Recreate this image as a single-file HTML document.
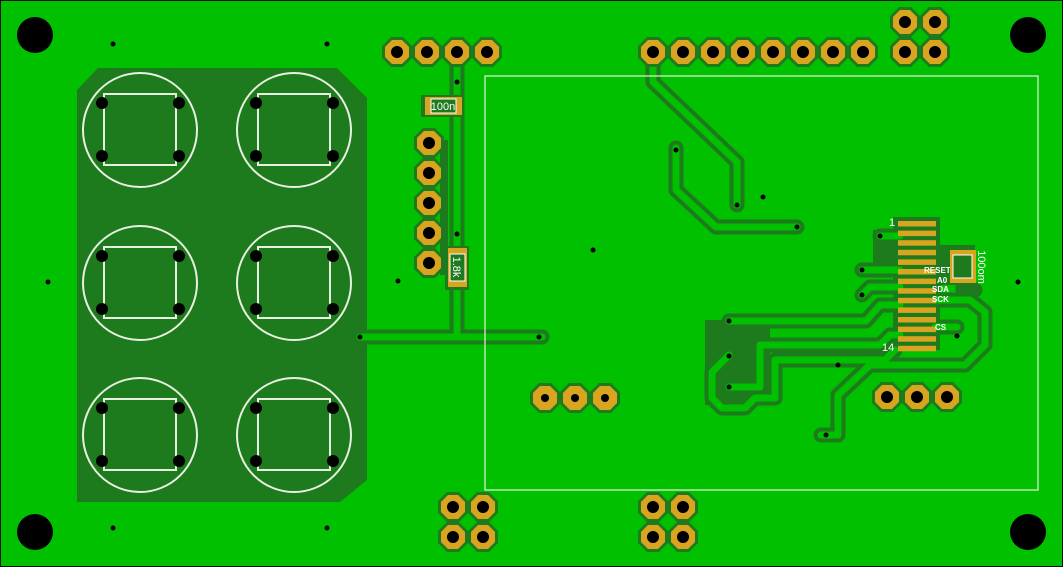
<!DOCTYPE html>
<html><head><meta charset="utf-8"><style>
html,body{margin:0;padding:0;background:#00c000}
svg{display:block}
text{font-family:"Liberation Sans",sans-serif;fill:#fff}
</style></head><body>
<svg width="1063" height="567" viewBox="0 0 1063 567" xmlns="http://www.w3.org/2000/svg">
<defs>
<g id="pad"><polygon points="15,6 6,15 -6,15 -15,6 -15,-6 -6,-15 6,-15 15,-6" fill="#1d7a1d"/><polygon points="12,5 5,12 -5,12 -12,5 -12,-5 -5,-12 5,-12 12,-5" fill="#d9a520"/><circle r="6" fill="#000"/></g>
<g id="spad"><polygon points="15,6 6,15 -6,15 -15,6 -15,-6 -6,-15 6,-15 15,-6" fill="#1d7a1d"/><polygon points="12,5 5,12 -5,12 -12,5 -12,-5 -5,-12 5,-12 12,-5" fill="#d9a520"/><circle r="4" fill="#000"/></g>
<g id="sw"><circle r="57" fill="none" stroke="#e8f0e0" stroke-width="2"/><rect x="-36" y="-36" width="72" height="71" fill="none" stroke="#e8f0e0" stroke-width="2"/><circle cx="-38" cy="-27" r="6" fill="#000"/><circle cx="39" cy="-27" r="6" fill="#000"/><circle cx="-38" cy="26" r="6" fill="#000"/><circle cx="39" cy="26" r="6" fill="#000"/></g>
</defs>
<rect x="0.5" y="0.5" width="1062" height="566" fill="#00c000" stroke="#111" stroke-width="1"/>
<!-- dark pour -->
<polygon points="77,90 98,68 337,68 367,98 367,480 340,502 77,502" fill="#1d7a1d"/>
<polygon points="440,140 448,140 448,275 440,275" fill="#1d7a1d"/>
<polygon points="893,217 940,217 940,245 975,245 975,285 940,285 940,350 893,350" fill="#1d7a1d"/>
<polygon points="705,320 770,320 770,405 705,405" fill="#1d7a1d"/>
<polygon points="873,230 893,230 893,265 873,265" fill="#1d7a1d"/>
<!-- traces -->
<g fill="none" stroke-linecap="round" stroke-linejoin="round">
<g stroke="#1d7a1d" stroke-width="15">
<path d="M457,52 V335 M360,337 H542"/>
<path d="M653,52 V82 L737,162 V205"/>
<path d="M676,148 V190 L716,227 H797"/>
<path d="M880,236 H900 M862,270 H900 M862,295 L870,287 H900 M729,321 H866 L880,305 H900"/>
<path d="M729,387 H760 V345 H880 L890,335 H900"/>
<path d="M729,355 L712,372 V398 L722,408 H745 L755,398 H775 V360 H885 L895,350"/>
<path d="M821,435 H838 V395 L870,365 H965 L985,345 V312 L970,300 H935"/>
<path d="M957,327 H935"/>
<path d="M963,270 V290 H975"/>
</g>
<g stroke="#00c000" stroke-width="7">
<path d="M457,52 V335 M360,337 H542"/>
<path d="M653,52 V82 L737,162 V205"/>
<path d="M676,148 V190 L716,227 H797"/>
<path d="M880,236 H900 M862,270 H900 M862,295 L870,287 H900 M729,321 H866 L880,305 H900"/>
<path d="M729,387 H760 V345 H880 L890,335 H900"/>
<path d="M729,355 L712,372 V398 L722,408 H745 L755,398 H775 V360 H885 L895,350"/>
<path d="M821,435 H838 V395 L870,365 H965 L985,345 V312 L970,300 H935"/>
<path d="M957,327 H935"/>
</g>
</g>
<!-- vias -->
<g fill="#000">
<circle cx="457" cy="82" r="2.5"/><circle cx="457" cy="234" r="2.5"/><circle cx="360" cy="337" r="2.5"/><circle cx="539" cy="337" r="2.5"/>
<circle cx="398" cy="281" r="2.5"/><circle cx="737" cy="205" r="2.5"/><circle cx="676" cy="150" r="2.5"/><circle cx="797" cy="227" r="2.5"/>
<circle cx="763" cy="197" r="2.5"/><circle cx="593" cy="250" r="2.5"/><circle cx="113" cy="44" r="2.5"/><circle cx="327" cy="44" r="2.5"/>
<circle cx="48" cy="282" r="2.5"/><circle cx="1018" cy="282" r="2.5"/><circle cx="113" cy="528" r="2.5"/><circle cx="327" cy="528" r="2.5"/>
<circle cx="880" cy="236" r="2.5"/><circle cx="862" cy="270" r="2.5"/><circle cx="862" cy="295" r="2.5"/><circle cx="729" cy="321" r="2.5"/>
<circle cx="729" cy="356" r="2.5"/><circle cx="729" cy="387" r="2.5"/><circle cx="838" cy="365" r="2.5"/><circle cx="826" cy="435" r="2.5"/>
<circle cx="957" cy="336" r="2.5"/>
</g>
<!-- mounting holes -->
<g fill="#000"><circle cx="35" cy="35" r="18"/><circle cx="1028" cy="35" r="18"/><circle cx="35" cy="532" r="18"/><circle cx="1028" cy="532" r="18"/></g>
<!-- switches -->
<use href="#sw" x="140" y="130"/><use href="#sw" x="294" y="130"/>
<use href="#sw" x="140" y="283"/><use href="#sw" x="294" y="283"/>
<use href="#sw" x="140" y="435"/><use href="#sw" x="294" y="435"/>
<!-- white outline -->
<rect x="485" y="76" width="553" height="414" fill="none" stroke="#e8f0e0" stroke-width="1.2"/>
<!-- pads -->
<use href="#pad" x="397" y="52"/><use href="#pad" x="427" y="52"/><use href="#pad" x="457" y="52"/><use href="#pad" x="487" y="52"/>
<use href="#pad" x="653" y="52"/><use href="#pad" x="683" y="52"/><use href="#pad" x="713" y="52"/><use href="#pad" x="743" y="52"/>
<use href="#pad" x="773" y="52"/><use href="#pad" x="803" y="52"/><use href="#pad" x="833" y="52"/><use href="#pad" x="863" y="52"/>
<use href="#pad" x="905" y="22"/><use href="#pad" x="935" y="22"/><use href="#pad" x="905" y="52"/><use href="#pad" x="935" y="52"/>
<use href="#pad" x="429" y="143"/><use href="#pad" x="429" y="173"/><use href="#pad" x="429" y="203"/><use href="#pad" x="429" y="233"/><use href="#pad" x="429" y="263"/>
<use href="#pad" x="453" y="507"/><use href="#pad" x="483" y="507"/><use href="#pad" x="453" y="537"/><use href="#pad" x="483" y="537"/>
<use href="#pad" x="653" y="507"/><use href="#pad" x="683" y="507"/><use href="#pad" x="653" y="537"/><use href="#pad" x="683" y="537"/>
<use href="#spad" x="545" y="398"/><use href="#spad" x="575" y="398"/><use href="#spad" x="605" y="398"/>
<use href="#pad" x="887" y="397"/><use href="#pad" x="917" y="397"/><use href="#pad" x="947" y="397"/>
<!-- 100n -->
<rect x="421" y="95" width="42" height="22" fill="#1d7a1d"/>
<rect x="425" y="97" width="37" height="18" fill="#d9a520"/>
<rect x="431" y="99" width="25" height="14" fill="#1d7a1d" stroke="#fff" stroke-width="1"/>
<text x="443" y="110" font-size="11" text-anchor="middle">100n</text>
<!-- 1.8k -->
<rect x="445" y="246" width="24" height="44" fill="#1d7a1d"/>
<rect x="448" y="248" width="19" height="39" fill="#d9a520"/>
<rect x="450" y="254" width="15" height="27" fill="#1d7a1d" stroke="#fff" stroke-width="1"/>
<text transform="translate(453,267) rotate(90)" font-size="11" text-anchor="middle">1.8k</text>
<!-- FPC -->
<g fill="#d9a520">
<rect x="898" y="221" width="38" height="5.5"/><rect x="898" y="230.6" width="38" height="5.5"/><rect x="898" y="240.2" width="38" height="5.5"/><rect x="898" y="249.8" width="38" height="5.5"/>
<rect x="898" y="259.4" width="38" height="5.5"/><rect x="898" y="269" width="38" height="5.5"/><rect x="898" y="278.6" width="38" height="5.5"/><rect x="898" y="288.2" width="38" height="5.5"/>
<rect x="898" y="297.8" width="38" height="5.5"/><rect x="898" y="307.4" width="38" height="5.5"/><rect x="898" y="317" width="38" height="5.5"/><rect x="898" y="326.6" width="38" height="5.5"/>
<rect x="898" y="336.2" width="38" height="5.5"/><rect x="898" y="345.8" width="38" height="5.5"/>
</g>
<text x="889" y="226" font-size="11">1</text>
<text x="882" y="351" font-size="11">14</text>
<g font-size="8" font-weight="bold">
<text x="924" y="273">RESET</text><text x="937" y="283">A0</text><text x="932" y="292">SDA</text><text x="932" y="302">SCK</text><text x="935" y="330">CS</text>
</g>
<!-- 100om cap -->
<rect x="950" y="250" width="26" height="33" fill="#d9a520"/>
<rect x="953" y="255" width="19" height="23" fill="#1d7a1d" stroke="#fff" stroke-width="1"/>
<text transform="translate(978,267) rotate(90)" font-size="11" text-anchor="middle">100om</text>
</svg>
</body></html>
